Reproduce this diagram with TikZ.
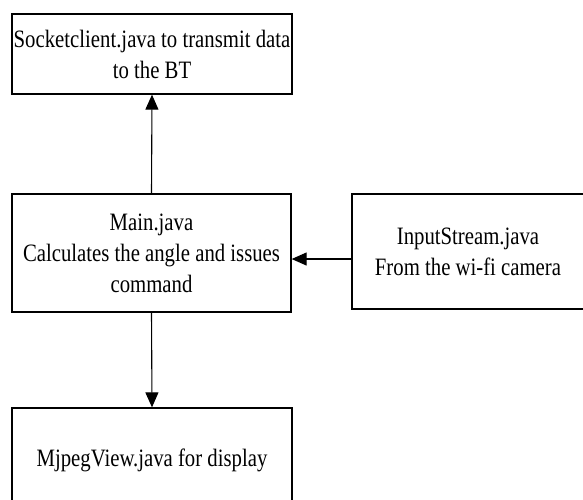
\documentclass[tikz,border=0pt]{standalone}
\usepackage{fontspec}
\setmainfont{Liberation Serif}[FakeStretch=0.83]
\usetikzlibrary{arrows.meta}

\begin{document}
\begin{tikzpicture}[x=1pt,y=-1pt,
  box/.style={draw, line width=1.3pt, align=center, inner sep=0pt,
    font=\fontsize{25}{31}\selectfont},
  flow/.style={line width=1.1pt, -{Triangle[length=15pt,width=13pt]}}]
\useasboundingbox (0,0) rectangle (583,499);

\node [box, minimum width=280, minimum height=80] (socket) at (152,54)
  {Socketclient.java to transmit data\\to the BT};
\node [box, minimum width=279, minimum height=118] (main) at (151.5,253)
  {Main.java\\Calculates the angle and issues\\command};
\node [box, minimum width=232, minimum height=115] (input) at (468,251.5)
  {InputStream.java\\From the wi-fi camera};
\node [box, minimum width=280, minimum height=104] (mjpeg) at (152,460)
  {MjpegView.java for display};

\draw [flow] (main.north) -- (socket.south);
\draw [flow] (main.south) -- (mjpeg.north);
\draw [flow] ([yshift=-7.5pt]input.west) -- ([yshift=-7.5pt]input.west -| main.east);
\end{tikzpicture}
\end{document}
